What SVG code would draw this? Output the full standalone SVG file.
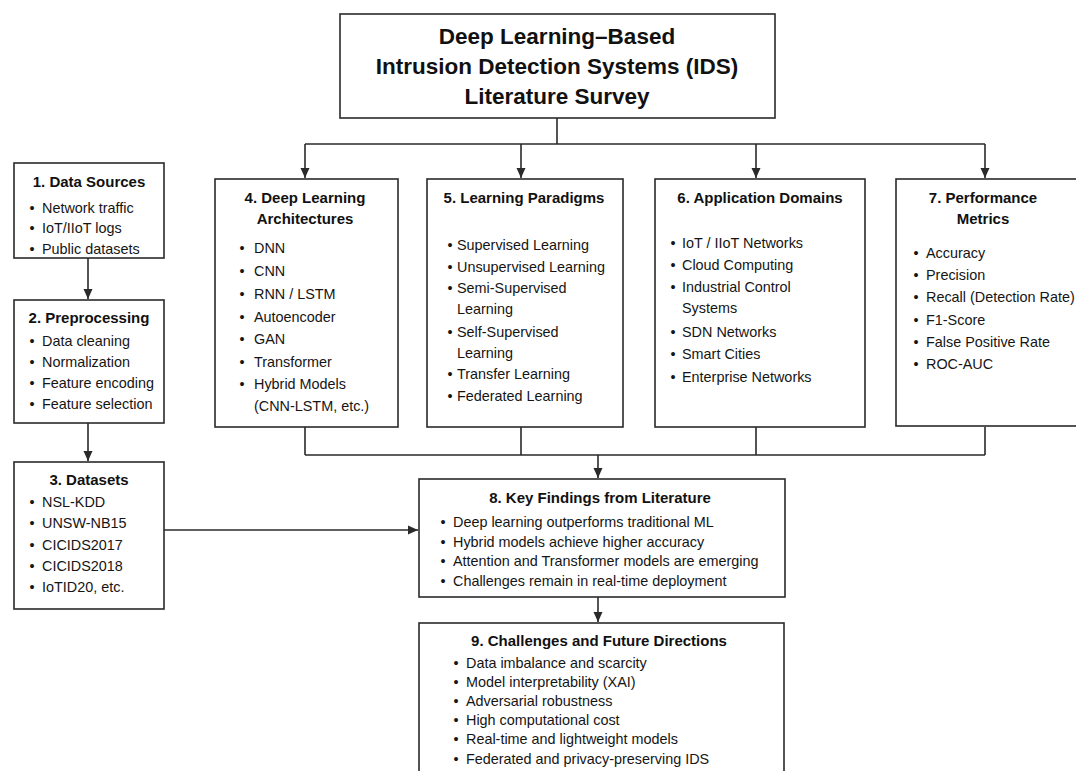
<svg xmlns="http://www.w3.org/2000/svg" width="1076" height="771" viewBox="0 0 1076 771">
<style>
.box{fill:#fff;stroke:#2a2a2a;stroke-width:1.6}
.ln{fill:none;stroke:#2a2a2a;stroke-width:1.6}
.t{font-family:"Liberation Sans",Arial,Helvetica,sans-serif;font-weight:bold;font-size:15px;fill:#111;text-anchor:middle}
.h{font-family:"Liberation Sans",Arial,Helvetica,sans-serif;font-weight:bold;font-size:22.5px;fill:#111;text-anchor:middle}
.i{font-family:"Liberation Sans",Arial,Helvetica,sans-serif;font-size:14.4px;fill:#151515}
.b{font-family:"Liberation Sans",Arial,Helvetica,sans-serif;font-size:14.4px;fill:#151515;text-anchor:middle}
</style>
<defs>
<marker id="ah" markerUnits="userSpaceOnUse" markerWidth="10" markerHeight="10" refX="10" refY="5" orient="auto">
<path d="M0,0.5 L10,5 L0,9.5 z" fill="#2a2a2a"/>
</marker>
</defs>
<rect width="1076" height="771" fill="#fff"/>

<g id="connectors">
<path class="ln" d="M557,118 V144 M305,144 H985"/>
<path class="ln" d="M305,144 V178" marker-end="url(#ah)"/>
<path class="ln" d="M521,144 V178" marker-end="url(#ah)"/>
<path class="ln" d="M756,144 V178" marker-end="url(#ah)"/>
<path class="ln" d="M985,144 V178" marker-end="url(#ah)"/>
<path class="ln" d="M305,427 V455 M521,427 V455 M756,427 V455 M985,427 V455 M305,455 H985"/>
<path class="ln" d="M598,455 V478" marker-end="url(#ah)"/>
<path class="ln" d="M598,597 V622" marker-end="url(#ah)"/>
<path class="ln" d="M88,258 V299" marker-end="url(#ah)"/>
<path class="ln" d="M88,423 V461" marker-end="url(#ah)"/>
<path class="ln" d="M164,530 H418" marker-end="url(#ah)"/>
</g>

<g id="title">
<rect class="box" x="340" y="14" width="435" height="104"/>
<text class="h" x="557" y="44">Deep Learning–Based</text>
<text class="h" x="557" y="74">Intrusion Detection Systems (IDS)</text>
<text class="h" x="557" y="104">Literature Survey</text>
</g>

<g id="n1">
<rect class="box" x="14" y="163" width="150" height="95"/>
<text class="t" x="89" y="187">1. Data Sources</text>
<text class="b" x="32" y="213">•</text><text class="i" x="42" y="213">Network traffic</text>
<text class="b" x="32" y="233">•</text><text class="i" x="42" y="233">IoT/IIoT logs</text>
<text class="b" x="32" y="254">•</text><text class="i" x="42" y="254">Public datasets</text>
</g>

<g id="n2">
<rect class="box" x="14" y="300" width="150" height="123"/>
<text class="t" x="89" y="323">2. Preprocessing</text>
<text class="b" x="32" y="346">•</text><text class="i" x="42" y="346">Data cleaning</text>
<text class="b" x="32" y="367">•</text><text class="i" x="42" y="367">Normalization</text>
<text class="b" x="32" y="388">•</text><text class="i" x="42" y="388">Feature encoding</text>
<text class="b" x="32" y="409">•</text><text class="i" x="42" y="409">Feature selection</text>
</g>

<g id="n3">
<rect class="box" x="14" y="462" width="150" height="147"/>
<text class="t" x="89" y="485">3. Datasets</text>
<text class="b" x="32" y="507">•</text><text class="i" x="42" y="507">NSL-KDD</text>
<text class="b" x="32" y="528">•</text><text class="i" x="42" y="528">UNSW-NB15</text>
<text class="b" x="32" y="550">•</text><text class="i" x="42" y="550">CICIDS2017</text>
<text class="b" x="32" y="571">•</text><text class="i" x="42" y="571">CICIDS2018</text>
<text class="b" x="32" y="592">•</text><text class="i" x="42" y="592">IoTID20, etc.</text>
</g>

<g id="n4">
<rect class="box" x="215" y="179" width="183" height="248"/>
<text class="t" x="305" y="203">4. Deep Learning</text>
<text class="t" x="305" y="224">Architectures</text>
<text class="b" x="242" y="253">•</text><text class="i" x="254" y="253">DNN</text>
<text class="b" x="242" y="276">•</text><text class="i" x="254" y="276">CNN</text>
<text class="b" x="242" y="299">•</text><text class="i" x="254" y="299">RNN / LSTM</text>
<text class="b" x="242" y="322">•</text><text class="i" x="254" y="322">Autoencoder</text>
<text class="b" x="242" y="344">•</text><text class="i" x="254" y="344">GAN</text>
<text class="b" x="242" y="367">•</text><text class="i" x="254" y="367">Transformer</text>
<text class="b" x="242" y="389">•</text><text class="i" x="254" y="389">Hybrid Models</text>
<text class="i" x="254" y="411">(CNN-LSTM, etc.)</text>
</g>

<g id="n5">
<rect class="box" x="427" y="179" width="196" height="248"/>
<text class="t" x="524" y="203">5. Learning Paradigms</text>
<text class="b" x="450" y="250">•</text><text class="i" x="457" y="250">Supervised Learning</text>
<text class="b" x="450" y="272">•</text><text class="i" x="457" y="272">Unsupervised Learning</text>
<text class="b" x="450" y="293">•</text><text class="i" x="457" y="293">Semi-Supervised</text>
<text class="i" x="457" y="314">Learning</text>
<text class="b" x="450" y="337">•</text><text class="i" x="457" y="337">Self-Supervised</text>
<text class="i" x="457" y="358">Learning</text>
<text class="b" x="450" y="379">•</text><text class="i" x="457" y="379">Transfer Learning</text>
<text class="b" x="450" y="401">•</text><text class="i" x="457" y="401">Federated Learning</text>
</g>

<g id="n6">
<rect class="box" x="655" y="179" width="210" height="248"/>
<text class="t" x="760" y="203">6. Application Domains</text>
<text class="b" x="673" y="248">•</text><text class="i" x="682" y="248">IoT / IIoT Networks</text>
<text class="b" x="673" y="270">•</text><text class="i" x="682" y="270">Cloud Computing</text>
<text class="b" x="673" y="292">•</text><text class="i" x="682" y="292">Industrial Control</text>
<text class="i" x="682" y="313">Systems</text>
<text class="b" x="673" y="337">•</text><text class="i" x="682" y="337">SDN Networks</text>
<text class="b" x="673" y="359">•</text><text class="i" x="682" y="359">Smart Cities</text>
<text class="b" x="673" y="382">•</text><text class="i" x="682" y="382">Enterprise Networks</text>
</g>

<g id="n7">
<rect class="box" x="896" y="179" width="190" height="247"/>
<text class="t" x="983" y="203">7. Performance</text>
<text class="t" x="983" y="224">Metrics</text>
<text class="b" x="916" y="258">•</text><text class="i" x="926" y="258">Accuracy</text>
<text class="b" x="916" y="280">•</text><text class="i" x="926" y="280">Precision</text>
<text class="b" x="916" y="302">•</text><text class="i" x="926" y="302">Recall (Detection Rate)</text>
<text class="b" x="916" y="325">•</text><text class="i" x="926" y="325">F1-Score</text>
<text class="b" x="916" y="347">•</text><text class="i" x="926" y="347">False Positive Rate</text>
<text class="b" x="916" y="369">•</text><text class="i" x="926" y="369">ROC-AUC</text>
</g>

<g id="n8">
<rect class="box" x="419" y="479" width="366" height="118"/>
<text class="t" x="600" y="503">8. Key Findings from Literature</text>
<text class="b" x="443" y="527">•</text><text class="i" x="453" y="527">Deep learning outperforms traditional ML</text>
<text class="b" x="443" y="547">•</text><text class="i" x="453" y="547">Hybrid models achieve higher accuracy</text>
<text class="b" x="443" y="566">•</text><text class="i" x="453" y="566">Attention and Transformer models are emerging</text>
<text class="b" x="443" y="586">•</text><text class="i" x="453" y="586">Challenges remain in real-time deployment</text>
</g>

<g id="n9">
<rect class="box" x="419" y="623" width="365" height="160"/>
<text class="t" x="599" y="646">9. Challenges and Future Directions</text>
<text class="b" x="456" y="668">•</text><text class="i" x="466" y="668">Data imbalance and scarcity</text>
<text class="b" x="456" y="687">•</text><text class="i" x="466" y="687">Model interpretability (XAI)</text>
<text class="b" x="456" y="706">•</text><text class="i" x="466" y="706">Adversarial robustness</text>
<text class="b" x="456" y="725">•</text><text class="i" x="466" y="725">High computational cost</text>
<text class="b" x="456" y="744">•</text><text class="i" x="466" y="744">Real-time and lightweight models</text>
<text class="b" x="456" y="764">•</text><text class="i" x="466" y="764">Federated and privacy-preserving IDS</text>
</g>
</svg>
